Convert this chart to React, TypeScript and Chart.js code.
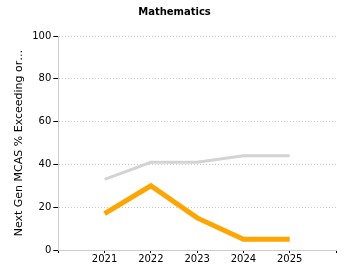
import React, { useEffect, useRef } from "react";
import { Chart, registerables } from "chart.js";

Chart.register(...registerables);

const categories = ["", "2021", "2022", "2023", "2024", "2025", ""];
const stateValues = [null, 33, 41, 41, 44, 44, null];
const schoolValues = [null, 17, 30, 15, 5, 5, null];
const yTicks = [0, 20, 40, 60, 80, 100];

export default function App() {
  const ref = useRef<HTMLCanvasElement>(null);
  useEffect(() => {
    if (!ref.current) return;
    const font = "'DejaVu Sans', Verdana, sans-serif";
    const chart = new Chart(ref.current, {
      type: "line",
      data: {
        labels: categories,
        datasets: [
          {
            label: "State",
            data: stateValues,
            borderColor: "#d3d3d3",
            backgroundColor: "#d3d3d3",
            borderWidth: 3,
            pointRadius: 0,
            tension: 0,
          },
          {
            label: "School",
            data: schoolValues,
            borderColor: "#ffa500",
            backgroundColor: "#ffa500",
            borderWidth: 5,
            pointRadius: 0,
            tension: 0,
          },
        ],
      },
      options: {
        animation: false,
        responsive: false,
        layout: { padding: { left: 13, right: 14, top: 0, bottom: 15 } },
        plugins: {
          legend: { display: false },
          tooltip: { enabled: false },
          title: {
            display: true,
            text: "Mathematics",
            color: "#000",
            font: { family: font, size: 10, weight: "bold" },
            padding: { top: 6, bottom: 18 },
          },
        },
        scales: {
          x: {
            offset: false,
            grid: {
              drawOnChartArea: false,
              drawTicks: true,
              tickLength: 3,
              tickColor: "#000",
            },
            border: { color: "#cccccc", width: 1 },
            ticks: {
              color: "#000",
              font: { family: font, size: 10 },
              maxRotation: 0,
              autoSkip: false,
              padding: 0,
            },
          },
          y: {
            min: 0,
            max: 100,
            afterBuildTicks: (axis: any) => {
              axis.ticks = yTicks.map((v) => ({ value: v }));
            },
            grid: {
              color: "#c8c8c8",
              tickLength: 5,
              tickColor: "#000",
              tickBorderDash: [],
            },
            border: { color: "#cccccc", width: 1, dash: [1, 2] },
            ticks: {
              color: "#000",
              font: { family: font, size: 10 },
              padding: 2,
            },
            title: {
              display: true,
              text: "Next Gen MCAS % Exceeding or…",
              color: "#000",
              font: { family: font, size: 11 },
              padding: { top: 0, bottom: 4 },
            },
          },
        },
      },
    });
    return () => chart.destroy();
  }, []);
  return (
    <div style={{ position: "fixed", left: 0, top: 0, width: 350, height: 280, background: "#fff" }}>
      <canvas ref={ref} width={350} height={280} />
    </div>
  );
}
